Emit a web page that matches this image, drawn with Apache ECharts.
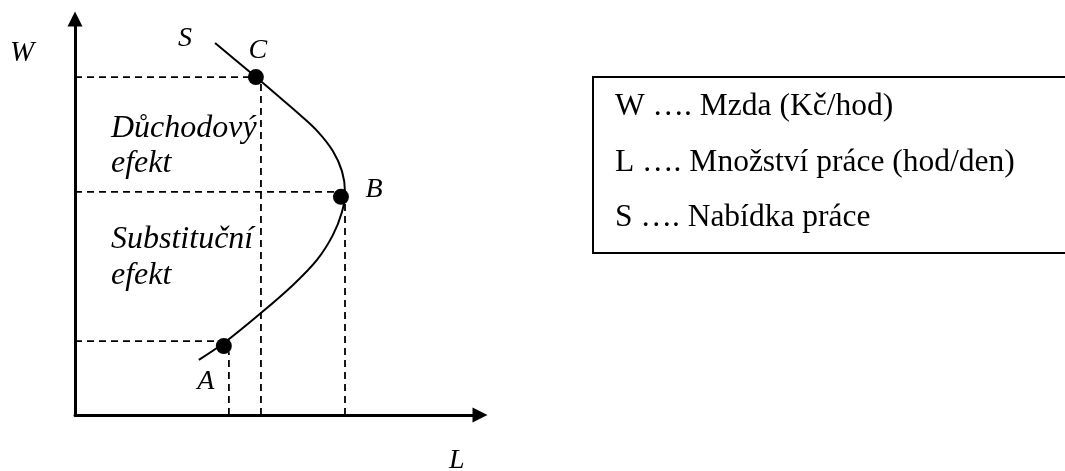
<!DOCTYPE html>
<html>
<head>
<meta charset="utf-8">
<script src="https://cdn.jsdelivr.net/npm/echarts@6/dist/echarts.min.js"></script>
<style>
html,body{margin:0;padding:0;background:#fff;}
#chart{width:1065px;height:471px;}
</style>
</head>
<body>
<div id="chart"></div>
<script>
// Labour supply curve S (L = hours of work, W = wage)
const curveL = [4.15, 5.36, 6.07, 6.67, 7.20, 7.64, 7.91, 8.00, 7.91, 7.64, 7.17, 6.46, 5.51, 4.41, 3.67];
const curveW = [11.27, 10.24, 9.62, 9.09, 8.58, 8.00, 7.39, 6.76, 6.15, 5.45, 4.70, 3.94, 3.09, 2.18, 1.67];

// Marked points
const pointNames = ['A', 'B', 'C'];
const pointL = [4.41, 7.88, 5.36];
const pointW = [2.09, 6.61, 10.24];

// Dashed guide lines: horizontal level and vertical position for each point
const guideHW = [2.24, 6.76, 10.24];   // horizontal guide wage level
const guideHEnd = [4.20, 7.80, 5.30];  // horizontal guide ends at this L
const guideVL = [4.56, 8.00, 5.51];    // vertical guide L position
const guideVEnd = [1.90, 6.70, 10.24]; // vertical guide ends at this W

const axisNameW = 'W';
const axisNameL = 'L';
const curveName = 'S';
const effectTexts = ['Důchodový\nefekt', 'Substituční\nefekt'];
const legendLines = ['W …. Mzda (Kč/hod)', 'L …. Množství práce (hod/den)', 'S …. Nabídka práce'];

const serif = '"Liberation Serif", "Times New Roman", serif';
const chart = echarts.init(document.getElementById('chart'), null, {renderer: 'canvas'});

const labelOffsets = {A: [-18, 36], B: [33, -7], C: [2, -26]};

const series = [];
// guides
for (let i = 0; i < pointNames.length; i++) {
  series.push({
    type: 'line', silent: true, symbol: 'none', z: 1,
    lineStyle: {color: '#000', width: 1.8, type: [7, 5]},
    data: [[0, guideHW[i]], [guideHEnd[i], guideHW[i]]]
  });
  series.push({
    type: 'line', silent: true, symbol: 'none', z: 1,
    lineStyle: {color: '#000', width: 1.8, type: [7, 5]},
    data: [[guideVL[i], 0], [guideVL[i], guideVEnd[i]]]
  });
}
// supply curve
series.push({
  type: 'line', silent: true, smooth: 0.35, z: 2,
  symbol: 'circle', symbolSize: 0, showSymbol: true,
  lineStyle: {color: '#000', width: 2},
  itemStyle: {color: '#000', opacity: 1},
  data: curveL.map((l, i) => {
    const d = {value: [l, curveW[i]]};
    if (i === 0) d.label = {show: true, formatter: curveName, position: 'inside', offset: [-30, -4],
      fontFamily: serif, fontStyle: 'italic', fontSize: 28, color: '#000'};
    return d;
  })
});
// points
series.push({
  type: 'scatter', silent: true, z: 3, symbolSize: 16,
  itemStyle: {color: '#000', opacity: 1},
  data: pointNames.map((n, i) => ({
    value: [pointL[i], pointW[i]], name: n,
    label: {show: true, formatter: n, position: 'inside', offset: labelOffsets[n],
      fontFamily: serif, fontStyle: 'italic', fontSize: 28, color: '#000'}
  }))
});

chart.setOption({
  animation: false,
  backgroundColor: '#fff',
  grid: {left: 75, top: 19, right: 585, bottom: 56},
  xAxis: {
    type: 'value', min: 0, max: 12,
    splitLine: {show: false}, axisTick: {show: false}, axisLabel: {show: false},
    axisLine: {show: true, symbol: ['none', 'triangle'], symbolSize: [15, 15],
      lineStyle: {color: '#000', width: 3}}
  },
  yAxis: {
    type: 'value', min: 0, max: 12,
    splitLine: {show: false}, axisTick: {show: false}, axisLabel: {show: false},
    axisLine: {show: true, symbol: ['none', 'triangle'], symbolSize: [15, 15],
      lineStyle: {color: '#000', width: 3}}
  },
  series: series,
  graphic: [
    {type: 'text', x: 10, y: 53, style: {text: axisNameW, font: 'italic 29px ' + serif, fill: '#000', verticalAlign: 'middle'}},
    {type: 'text', x: 449, y: 461, style: {text: axisNameL, font: 'italic 28px ' + serif, fill: '#000', verticalAlign: 'middle'}},
    {type: 'text', x: 111, y: 146, style: {text: effectTexts[0], font: 'italic 32px ' + serif, fill: '#000', verticalAlign: 'middle', lineHeight: 35}},
    {type: 'text', x: 111, y: 258, style: {text: effectTexts[1], font: 'italic 32px ' + serif, fill: '#000', verticalAlign: 'middle', lineHeight: 36}},
    {type: 'rect', shape: {x: 593, y: 77, width: 500, height: 176}, style: {stroke: '#000', lineWidth: 2, fill: 'none'}},
    {type: 'text', x: 615, y: 107, style: {text: legendLines[0], font: '31.5px ' + serif, fill: '#000', verticalAlign: 'middle'}},
    {type: 'text', x: 615, y: 163, style: {text: legendLines[1], font: '31.5px ' + serif, fill: '#000', verticalAlign: 'middle'}},
    {type: 'text', x: 615, y: 218, style: {text: legendLines[2], font: '31.5px ' + serif, fill: '#000', verticalAlign: 'middle'}}
  ]
});
</script>
</body>
</html>
